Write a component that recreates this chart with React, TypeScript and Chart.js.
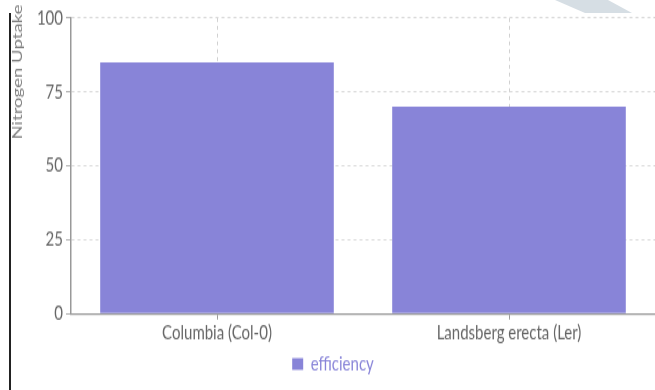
import React, { useEffect, useRef } from "react";
import { Chart, registerables } from "chart.js";

Chart.register(...registerables);

const categories: string[] = ["Columbia (Col-0)", "Landsberg erecta (Ler)"];
const efficiency: number[] = [85, 70];
const yTicks: number[] = [0, 25, 50, 75, 100];
const yTitle = "Nitrogen Uptake";

const BAR_COLOR = "#8884d8";
const FONT = "Lato, 'Noto Sans', sans-serif";

// The chart is laid out on a shorter canvas and stretched vertically on the page.
const OUT_W = 655;
const OUT_H = 390;
const STRETCH = 1.3;
const IN_H = OUT_H / STRETCH;

// Rotated y-axis caption, placed near the top-left corner.
const yTitlePlugin = {
  id: "yTitle",
  afterDraw(chart: any) {
    const { ctx } = chart;
    ctx.save();
    ctx.translate(17, 72 / STRETCH);
    ctx.rotate(-Math.PI / 2);
    ctx.font = `14.3px ${FONT}`;
    ctx.fillStyle = "#808080";
    ctx.textAlign = "center";
    ctx.textBaseline = "middle";
    ctx.fillText(yTitle, 0, 0);
    ctx.restore();
  },
};

export default function App() {
  const canvasRef = useRef<HTMLCanvasElement | null>(null);

  useEffect(() => {
    if (!canvasRef.current) return;
    const chart = new Chart(canvasRef.current, {
      type: "bar",
      data: {
        labels: categories,
        datasets: [
          {
            label: "efficiency",
            data: efficiency,
            backgroundColor: BAR_COLOR,
            borderWidth: 0,
            barPercentage: 0.8,
            categoryPercentage: 1,
          },
        ],
      },
      plugins: [yTitlePlugin],
      options: {
        animation: false,
        responsive: false,
        maintainAspectRatio: false,
        layout: { padding: { left: 8, top: 18 / STRETCH, right: -3, bottom: 2.5 } },
        plugins: {
          tooltip: { enabled: false },
          legend: {
            position: "bottom",
            labels: {
              boxWidth: 11,
              boxHeight: 9,
              color: BAR_COLOR,
              font: { family: FONT, size: 15 },
              padding: 6.7,
            },
          },
        },
        scales: {
          x: {
            offset: true,
            grid: {
              offset: false,
              color: "#d0d0d0",
              tickColor: "#999",
              tickLength: 4.6,
              tickBorderDash: [],
            },
            border: { color: "#999", dash: [3, 3], width: 1.2 },
            ticks: {
              color: "#666",
              font: { family: FONT, size: 15 },
              padding: 1,
            },
          },
          y: {
            min: 0,
            max: 100,
            afterBuildTicks: (scale: any) => {
              scale.ticks = yTicks.map((v) => ({ value: v }));
            },
            afterFit: (scale: any) => {
              scale.width = 63;
            },
            grid: {
              color: "#d0d0d0",
              lineWidth: 0.8,
              tickColor: "#999",
              tickLength: 5,
              tickBorderDash: [],
            },
            border: { color: "#999", dash: [3, 3], width: 1.5 },
            ticks: {
              color: "#666",
              font: { family: FONT, size: 15 },
              padding: 3,
            },
          },
        },
      },
    });
    return () => chart.destroy();
  }, []);

  return (
    <div
      style={{
        position: "fixed",
        left: 0,
        top: 0,
        width: OUT_W,
        height: OUT_H,
        background: "#fff",
        overflow: "hidden",
      }}
    >
      <canvas
        ref={canvasRef}
        width={OUT_W}
        height={IN_H}
        style={{
          position: "absolute",
          left: 0,
          top: 0,
          width: OUT_W,
          height: IN_H,
          transform: `scaleY(${STRETCH})`,
          transformOrigin: "0 0",
        }}
      />
      <div
        style={{
          position: "absolute",
          left: 9,
          top: 13,
          width: 2,
          height: OUT_H - 13,
          background: "#222",
        }}
      />
      <div
        style={{
          position: "absolute",
          left: 0,
          top: 0,
          width: OUT_W,
          height: OUT_H,
          background: "#d6dee4",
          clipPath: "polygon(555px 0px, 608px 0px, 632px 13px, 585px 13px)",
          pointerEvents: "none",
        }}
      />
    </div>
  );
}
